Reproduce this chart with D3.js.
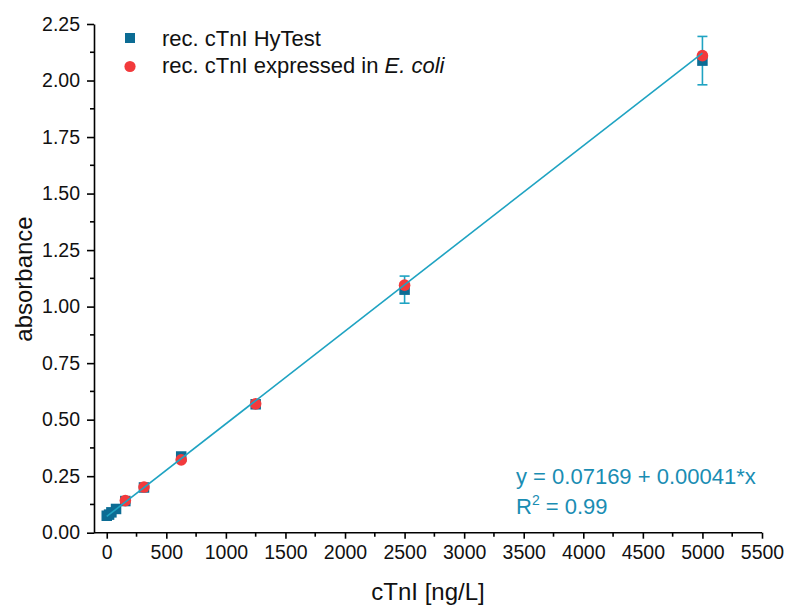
<!DOCTYPE html>
<html>
<head>
<meta charset="utf-8">
<script src="https://cdn.jsdelivr.net/npm/d3@7"></script>
<style>
  html, body { margin: 0; padding: 0; background: #fff; }
  svg { display: block; font-family: "Liberation Sans", Arial, sans-serif; }
</style>
</head>
<body>
<svg id="chart" width="785" height="606"></svg>
<script>
// Calibration data: cTnI concentration (ng/L) vs. absorbance
const hytestConc = [0, 19.5, 39, 78, 156, 312.5, 625, 1250, 2500, 5000];
const hytestAbs  = [0.075, 0.08, 0.09, 0.105, 0.14, 0.20, 0.337, 0.568, 1.075, 2.088];
const hytestErr  = [0, 0, 0, 0, 0.01, 0.012, 0, 0, 0.06, 0.107];

const ecoliConc = [156, 312.5, 625, 1250, 2500, 5000];
const ecoliAbs  = [0.142, 0.202, 0.322, 0.57, 1.095, 2.11];

// Linear fit
const fitIntercept = 0.07169;
const fitSlope = 0.00041;
const fitRange = [0, 5000];

const xTicks = [0, 500, 1000, 1500, 2000, 2500, 3000, 3500, 4000, 4500, 5000, 5500];
const yTicks = [0, 0.25, 0.5, 0.75, 1.0, 1.25, 1.5, 1.75, 2.0, 2.25];

const legendLabels = ["rec. cTnI HyTest", "rec. cTnI expressed in "];

const colSquare = "#0c6c94";
const colCircle = "#f23a3c";
const colLine = "#1fa3c2";
const colText = "#1a8db3";

const svg = d3.select("#chart");

const x = d3.scaleLinear().domain([-107, 5500]).range([94, 762]);
const y = d3.scaleLinear().domain([0, 2.25]).range([532.7, 24]);

// Minor tick positions halfway between majors
const xMinor = d3.range(250, 5500, 500);
const yMinor = d3.range(0.125, 2.25, 0.25);

// Axes
const xAxis = svg.append("g")
  .attr("transform", `translate(0,${y(0)})`)
  .call(d3.axisBottom(x).tickValues(xTicks).tickFormat(d3.format("d")).tickSize(6).tickSizeOuter(0).tickPadding(6));
xAxis.select(".domain").attr("d", `M${x.range()[0]},0H${x(5500)}`);
xAxis.selectAll(".minor").data(xMinor).enter().append("line")
  .attr("class", "minor").attr("x1", d => x(d)).attr("x2", d => x(d))
  .attr("y1", 0).attr("y2", 4).attr("stroke", "#000");

const yAxis = svg.append("g")
  .attr("transform", `translate(${x.range()[0]},0)`)
  .call(d3.axisLeft(y).tickValues(yTicks).tickFormat(d3.format(".2f")).tickSize(7).tickSizeOuter(0).tickPadding(7));
yAxis.selectAll(".minor").data(yMinor).enter().append("line")
  .attr("class", "minor").attr("y1", d => y(d)).attr("y2", d => y(d))
  .attr("x1", 0).attr("x2", -4).attr("stroke", "#000");

svg.selectAll(".domain, .tick line, .minor").attr("stroke", "#000").attr("stroke-width", 1.6);
svg.selectAll(".tick text").attr("font-size", 19.5).attr("fill", "#111").attr("font-family", "Liberation Sans, Arial, sans-serif");
xAxis.selectAll(".tick text").attr("dy", "0.75em");

// Axis titles
svg.append("text")
  .attr("x", 428).attr("y", 600)
  .attr("text-anchor", "middle").attr("font-size", 24).attr("fill", "#111")
  .text("cTnI [ng/L]");
svg.append("text")
  .attr("transform", `translate(32,279) rotate(-90)`)
  .attr("text-anchor", "middle").attr("font-size", 24).attr("fill", "#111")
  .text("absorbance");

const plot = svg.append("g");

// Error bars for the HyTest series
const errData = hytestConc.map((c, i) => ({ c, v: hytestAbs[i], e: hytestErr[i] })).filter(d => d.e > 0);
const eb = plot.selectAll(".err").data(errData).enter().append("g").attr("class", "err")
  .attr("stroke", colLine).attr("stroke-width", 1.6);
eb.append("line").attr("x1", d => x(d.c)).attr("x2", d => x(d.c))
  .attr("y1", d => y(d.v - d.e)).attr("y2", d => y(d.v + d.e));
eb.append("line").attr("x1", d => x(d.c) - 5).attr("x2", d => x(d.c) + 5)
  .attr("y1", d => y(d.v + d.e)).attr("y2", d => y(d.v + d.e));
eb.append("line").attr("x1", d => x(d.c) - 5).attr("x2", d => x(d.c) + 5)
  .attr("y1", d => y(d.v - d.e)).attr("y2", d => y(d.v - d.e));

// HyTest squares
const sq = 10.5;
plot.selectAll(".sq").data(hytestConc).enter().append("rect")
  .attr("x", (d) => x(d) - sq / 2).attr("y", (d, i) => y(hytestAbs[i]) - sq / 2)
  .attr("width", sq).attr("height", sq).attr("fill", colSquare);

// E. coli circles
plot.selectAll(".ci").data(ecoliConc).enter().append("circle")
  .attr("cx", d => x(d)).attr("cy", (d, i) => y(ecoliAbs[i]))
  .attr("r", 5.8).attr("fill", colCircle);

// Fit line
plot.append("line")
  .attr("x1", x(fitRange[0])).attr("y1", y(fitIntercept + fitSlope * fitRange[0]))
  .attr("x2", x(fitRange[1])).attr("y2", y(fitIntercept + fitSlope * fitRange[1]))
  .attr("stroke", colLine).attr("stroke-width", 1.6);

// Legend
const lg = svg.append("g");
lg.append("rect").attr("x", 125).attr("y", 33).attr("width", 10).attr("height", 10).attr("fill", colSquare);
lg.append("circle").attr("cx", 130).attr("cy", 66.5).attr("r", 5.6).attr("fill", colCircle);
lg.append("text").attr("x", 162).attr("y", 46).attr("font-size", 22).attr("fill", "#111").text(legendLabels[0]);
const t2 = lg.append("text").attr("x", 162).attr("y", 73).attr("font-size", 22).attr("fill", "#111");
t2.append("tspan").text(legendLabels[1]);
t2.append("tspan").attr("font-style", "italic").text("E. coli");

// Fit equation
const eq = svg.append("g").attr("fill", colText).attr("font-size", 22);
eq.append("text").attr("x", 516).attr("y", 484)
  .text(`y = ${fitIntercept} + ${fitSlope.toFixed(5)}*x`);
const r2 = eq.append("text").attr("x", 516).attr("y", 514);
r2.append("tspan").text("R");
r2.append("tspan").attr("font-size", 14).attr("dy", -9).text("2");
r2.append("tspan").attr("dy", 9).text(" = 0.99");
</script>
</body>
</html>
